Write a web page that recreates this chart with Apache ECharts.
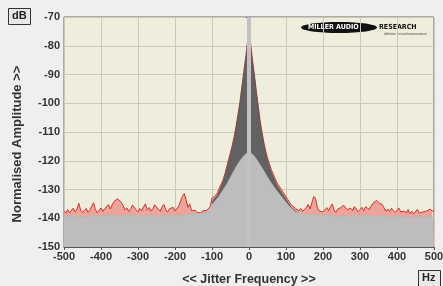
<!DOCTYPE html>
<html>
<head>
<meta charset="utf-8">
<script src="https://cdn.jsdelivr.net/npm/echarts@6/dist/echarts.min.js"></script>
<style>
  html, body { margin: 0; padding: 0; background: #efefef; }
  #chart { width: 443px; height: 286px; }
</style>
</head>
<body>
<div id="chart"></div>
<script>
// frequency bins (Hz), 5 Hz spacing
const binStart = -500;
const binStep = 5;
const darkStart = -100; // dark trace only covers the centre

// red trace (dB), -500 .. 500
const redTrace = [
  -137.5, -138.2, -137.0, -138.0, -137.4, -136.5, -137.8, -136.8, -134.8, -137.2,
  -138.0, -137.3, -136.6, -137.9, -137.1, -135.8, -134.6, -137.0, -138.1, -137.2,
  -136.4, -137.6, -137.0, -135.9, -135.2, -136.8, -135.4, -134.2, -133.6, -133.2,
  -133.8, -134.5, -135.6, -137.2, -136.4, -137.6, -136.9, -135.4, -134.9, -137.1,
  -137.8, -136.6, -137.4, -136.0, -135.0, -137.2, -136.3, -137.5, -136.8, -135.3,
  -134.8, -136.9, -137.6, -136.1, -135.2, -137.0, -137.8, -136.7, -137.3, -136.2,
  -137.5, -137.0, -135.8, -134.0, -132.4, -131.4, -133.6, -136.2, -135.0, -137.4,
  -137.9, -137.2, -138.0, -137.6, -138.1, -137.4, -137.8, -137.3, -137.0, -136.0,
  -133.0, -132.5, -132.0, -131.0, -129.5, -128.0, -126.5, -124.5, -122.0, -119.5,
  -117.0, -114.5, -111.5, -108.0, -104.0, -100.0, -95.0, -90.0, -85.0, -80.0,
  -72.0, -80.0, -85.5, -90.5, -96.0, -101.0, -106.0, -110.0, -113.5, -116.5,
  -119.0, -121.0, -123.0, -124.5, -126.0, -127.5, -128.5, -129.5, -130.5, -131.5,
  -132.5, -133.5, -134.5, -135.5, -136.0, -136.5, -137.0,
  -137.4, -136.6, -137.6, -137.0, -136.2, -135.2, -136.8, -134.6, -132.4, -133.2,
  -136.4, -137.5, -136.9, -137.8, -137.1, -136.3, -137.4, -136.0, -135.0, -137.2,
  -137.9, -136.8, -137.4, -136.2, -135.4, -135.1, -137.0, -137.6, -136.5, -137.3,
  -135.9, -136.8, -137.7, -137.0, -136.2, -137.4, -136.0, -135.6, -136.9, -135.8,
  -134.8, -134.2, -133.8, -134.6, -134.0, -135.2, -136.4, -137.5, -136.8, -137.6,
  -136.5, -137.3, -138.0, -137.2, -136.4, -137.8, -138.3, -137.5, -138.2, -137.0,
  -138.4, -137.6, -138.5, -137.9, -136.9, -138.2, -138.6, -137.8, -138.4, -137.5,
  -138.1, -136.8, -137.6, -137.2
];

// dark grey trace (dB), -100 .. 130
const darkTrace = [
  -134.5, -133.5, -133.0, -132.0, -130.5, -129.0, -127.5, -125.5, -123.0, -120.5,
  -118.0, -115.5, -112.5, -109.0, -105.0, -101.0, -96.0, -91.0, -86.0, -81.5,
  -75.0, -81.5, -86.5, -91.5, -97.0, -102.0, -107.0, -111.0, -114.5, -117.5,
  -120.0, -122.0, -124.0, -125.5, -127.0, -128.5, -129.5, -130.5, -131.5, -132.5,
  -133.5, -134.5, -135.5, -136.5, -137.0, -137.5, -138.0
];

// light grey trace (dB), -500 .. 500
const lightTrace = [
  -139.4, -139.1, -139.6, -139.2, -138.9, -139.4, -139.3, -139.0, -139.5, -139.2,
  -139.6, -139.1, -139.3, -138.9, -139.4, -139.2, -139.0, -139.5, -139.3, -139.1,
  -139.4, -139.2, -138.9, -139.3, -139.0, -139.4, -139.1, -138.8, -139.2, -139.0,
  -138.9, -139.3, -139.1, -139.4, -139.0, -139.2, -138.9, -139.3, -139.1, -139.4,
  -139.2, -139.0, -139.3, -138.9, -139.1, -139.4, -139.0, -139.2, -138.9, -139.1,
  -139.3, -139.0, -139.2, -138.8, -139.1, -139.3, -139.0, -138.9, -139.2, -138.9,
  -139.1, -138.8, -139.0, -138.7, -138.9, -138.6, -138.8, -138.9, -138.6, -138.8,
  -138.5, -138.7, -138.4, -138.6, -138.3, -138.5, -138.2, -138.0, -137.6, -137.0,
  -135.5, -134.5, -133.8, -133.0, -132.2, -131.2, -130.2, -129.2, -128.2, -127.0,
  -125.8, -124.6, -123.4, -122.2, -121.2, -120.2, -119.3, -118.5, -117.8, -117.2,
  -117.0, -117.2, -117.8, -118.6, -119.5, -120.5, -121.5, -122.5, -123.6, -124.7,
  -125.8, -126.8, -127.8, -128.7, -129.6, -130.5, -131.3, -132.1, -132.9, -133.7,
  -134.5, -135.3, -136.0, -136.7, -137.3, -137.8, -138.2,
  -138.4, -138.6, -138.5, -138.7, -138.6, -138.8, -138.7, -138.9, -138.8, -139.0,
  -138.9, -139.1, -138.9, -139.2, -139.0, -139.1, -138.9, -139.3, -139.0, -139.2,
  -139.4, -139.1, -139.3, -139.0, -139.2, -139.4, -139.1, -139.3, -139.5, -139.2,
  -139.0, -139.3, -139.1, -139.4, -139.2, -139.5, -139.1, -139.3, -139.0, -139.2,
  -139.4, -139.1, -139.3, -139.0, -139.2, -139.4, -139.1, -139.3, -139.5, -139.2,
  -139.4, -139.1, -139.6, -139.3, -139.1, -139.4, -139.6, -139.2, -139.5, -139.3,
  -139.6, -139.4, -139.7, -139.3, -139.5, -139.6, -139.4, -139.7, -139.5, -139.3,
  -139.6, -139.4, -139.6, -139.5
];

// 0 Hz carrier marker
const carrierHz = 0;

// axis ticks
const xTicks = { min: -500, max: 500, step: 100 };
const yTicks = { min: -150, max: -70, step: 10 };

function pairs(start, values) {
  return values.map((v, i) => [start + i * binStep, v]);
}

const fontName = 'Liberation Sans, Arial, sans-serif';
const labelFont = { color: '#333', fontSize: 11, fontWeight: 'bold', fontFamily: fontName };

const chart = echarts.init(document.getElementById('chart'));
chart.setOption({
  animation: false,
  backgroundColor: '#efefef',
  grid: {
    left: 64, right: 9, top: 17, bottom: 39,
    containLabel: false,
    outerBoundsMode: 'none',
    show: true,
    backgroundColor: '#efeddc',
    borderColor: '#666',
    borderWidth: 1
  },
  xAxis: {
    type: 'value',
    min: xTicks.min, max: xTicks.max, interval: xTicks.step,
    axisLine: { show: true, lineStyle: { color: '#555', width: 1 } },
    axisTick: { show: true, length: 3, lineStyle: { color: '#555' } },
    axisLabel: Object.assign({ margin: 4 }, labelFont),
    splitLine: { show: true, lineStyle: { color: '#cdc9b6', width: 1 } },
    name: '<< Jitter Frequency >>',
    nameLocation: 'middle',
    nameGap: 26,
    nameTextStyle: { color: '#333', fontSize: 12.5, fontWeight: 'bold', fontFamily: fontName }
  },
  yAxis: {
    type: 'value',
    min: yTicks.min, max: yTicks.max, interval: yTicks.step,
    axisLine: { show: true, lineStyle: { color: '#555', width: 1 } },
    axisTick: { show: true, length: 3, lineStyle: { color: '#555' } },
    axisLabel: Object.assign({ margin: 4 }, labelFont),
    splitLine: { show: true, lineStyle: { color: '#cdc9b6', width: 1 } }
  },
  series: [
    {
      type: 'line',
      name: 'red',
      data: pairs(binStart, redTrace),
      symbol: 'none',
      lineStyle: { color: '#d8332c', width: 1 },
      areaStyle: { color: '#eca49c', opacity: 1, origin: 'start' }
    },
    {
      type: 'line',
      name: 'dark',
      data: pairs(darkStart, darkTrace),
      symbol: 'none',
      lineStyle: { color: '#5a5a5a', width: 1 },
      areaStyle: { color: '#626262', opacity: 1, origin: 'start' }
    },
    {
      type: 'line',
      name: 'light',
      data: pairs(binStart, lightTrace),
      symbol: 'none',
      lineStyle: { color: '#b8b8b8', width: 1 },
      areaStyle: { color: '#bdbdbd', opacity: 1, origin: 'start' },
      markLine: {
        silent: true,
        symbol: 'none',
        label: { show: false },
        lineStyle: { color: '#c2c2c2', width: 4, type: 'solid' },
        data: [{ xAxis: carrierHz }]
      }
    }
  ],
  graphic: [
    // y axis title, sits a little below the plot centre like the original
    {
      type: 'text', x: 17, y: 144, rotation: Math.PI / 2,
      style: {
        text: 'Normalised Amplitude >>', fill: '#333',
        font: 'bold 13px Liberation Sans, Arial, sans-serif',
        align: 'center', verticalAlign: 'middle'
      }
    },
    {
      type: 'rect', left: 8, top: 8,
      shape: { width: 22, height: 16 },
      style: { fill: '#e8e8e8', stroke: '#333', lineWidth: 1 }
    },
    {
      type: 'text', left: 12, top: 10,
      style: { text: 'dB', fill: '#222', font: 'bold 11px Liberation Sans, Arial, sans-serif' }
    },
    {
      type: 'rect', left: 418, top: 270,
      shape: { width: 22, height: 16 },
      style: { fill: '#e8e8e8', stroke: '#333', lineWidth: 1 }
    },
    {
      type: 'text', left: 422, top: 272,
      style: { text: 'Hz', fill: '#222', font: 'bold 11px Liberation Sans, Arial, sans-serif' }
    },
    {
      type: 'ellipse', left: 301, top: 22,
      shape: { cx: 38, cy: 5.5, rx: 38, ry: 5.5 },
      style: { fill: '#111' }
    },
    {
      type: 'text', left: 308, top: 24,
      style: { text: 'MILLER AUDIO', fill: '#fff', font: 'bold 7px DejaVu Sans Condensed, sans-serif' }
    },
    {
      type: 'text', left: 379, top: 24,
      style: { text: 'RESEARCH', fill: '#111', font: 'bold 7px DejaVu Sans Condensed, sans-serif' }
    },
    {
      type: 'text', left: 384, top: 33,
      style: { text: 'definitive test and measurement', fill: '#444', font: '3px sans-serif' }
    }
  ]
});
</script>
</body>
</html>
